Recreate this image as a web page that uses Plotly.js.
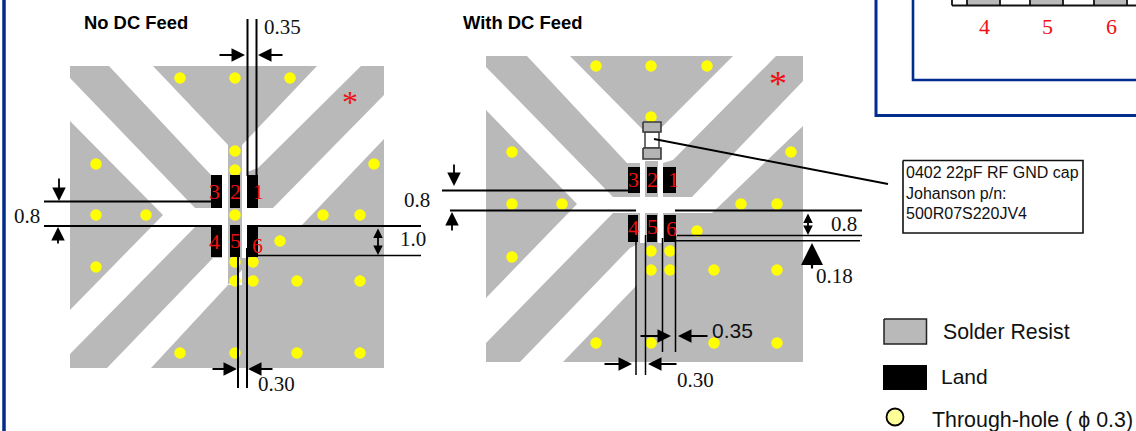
<!DOCTYPE html>
<html><head><meta charset="utf-8">
<script src="https://cdn.plot.ly/plotly-3.0.1.min.js"></script>
<style>html,body{margin:0;padding:0;background:#fff}#c{width:1136px;height:431px}</style></head>
<body><div id="c"></div>
<script>
// Solder-resist regions (null separates polygons)
const resistLeftX=[70,109,211,222,222,195,70,null,153,317,242,242,228,228,null,361,384,384,273,247,247,258,null,70,163,70,null,70,197,222,222,213,107,70,null,384,302,247,247,242,242,228,151,384];
const resistLeftY=[66,66,175,175,208,208,78,null,66,66,145,285,285,145,null,66,66,95,208,208,172,168,null,121,215,310,null,354,225,225,258,258,368,368,null,139,225,225,258,258,270,285,368,368];
const resistRightX=[486,527,627,640,640,613,486,null,570,733,651,null,645,658,658,645,null,776,803,803,692,663,663,673,null,486,577,486,null,486,613,640,640,630,520,486,null,645,658,658,663,663,712,803,803,563,637,637,645];
const resistRightY=[56,56,163,163,197,197,67,null,56,56,138,null,161,161,197,197,null,56,56,81,197,197,163,160,null,110,204,298,null,343,213,213,243,248,362,362,null,213,213,243,243,213,213,126,362,362,285,243,243];
// Through-holes
const holesLeftX=[180,235,290,235,235,96,374,96,146,235,323,360,280,96,235,253,235,253,297,360,180,235,297,360];
const holesLeftY=[78,78,78,151,170,164,164,215,215,215,215,215,241,267,262,262,281,281,281,281,353,353,353,353];
const holesRightX=[596,651,707,651,512,791,512,562,741,777,697,512,651,670,651,670,714,777,596,651,714,777];
const holesRightY=[66,66,66,117,152,152,204,204,204,204,231,257,251,251,270,270,270,270,343,343,343,343];
// Lands
const landsX=[211,222,222,211,null,230,240,240,230,null,247,258,258,247,null,211,222,222,211,null,230,240,240,230,null,247,258,258,247,null,
 628,640,640,628,null,647,657,657,647,null,663,676,676,663,null,628,638,638,628,null,647,657,657,647,null,664,676,676,664];
const landsY=[175,175,208,208,null,175,175,208,208,null,175,175,208,208,null,225,225,257,257,null,225,225,257,257,null,225,225,257,257,null,
 167,167,193,193,null,167,167,193,193,null,167,167,193,193,null,215,215,242,242,null,215,215,242,242,null,215,215,242,242];
// Capacitor
const capEndsX=[643,661,661,643,643,null,643,661,661,643,643];
const capEndsY=[122,122,132,132,122,null,148,148,159,159,148];
const capBodyX=[645,659,659,645,645];
const capBodyY=[132,132,148,148,132];
// Dimension lines
const dimHeavyX=[247.5,247.5,null,256.5,256.5,null,44,212,null,44,212,null,258,421,null,238,238,null,247,247,null,442,628,null,450,636,null,675,862,null,654,888];
const dimHeavyY=[19,176,null,19,176,null,201.5,201.5,null,226,226,null,226,226,null,257,388,null,248,388,null,190.5,190.5,null,210.5,210.5,null,210.5,210.5,null,139,184];
const dimThinX=[258,421,null,677,862,null,675,860,null,662.5,662.5,null,675.5,675.5,null,636,636,null,645.5,645.5];
const dimThinY=[255.5,255.5,null,235.5,235.5,null,240.7,240.7,null,238,352,null,236,352,null,242,375,null,235,375];
// Arrows: tip x, tip y, tail x, tail y
const arrowTips=[[245,55,218,55],[258,55,284,55],[59,201,59,177],[58,227,58,245],[237,369,211,369],[248,369,274,369],
 [454,186,454,163],[452,212,452,232],[671,336,639,336],[678,336,709,336],[632,364,603,364],[648,364,678,364]];
const doubleArrows=[[378,255,378,227],[808,235,808,212]];
const bigArrow=[812,243,812,270];
// Frame
const frameLeftX=[4,4];const frameLeftY=[0,431];
const frameOuterX=[876,876,1136];const frameOuterY=[0,115.5,115.5];
const frameInnerX=[913,913,1136];const frameInnerY=[0,80,80];
// Table fragment
const tableGrayX=[967,1000,1000,967,null,1030,1063,1063,1030,null,1094,1127,1127,1094];
const tableGrayY=[0,0,5,5,null,0,0,5,5,null,0,0,5,5];
const tableLineX=[952,952,null,967,967,null,1000,1000,null,1030,1030,null,1063,1063,null,1094,1094,null,1127,1127,null,952,1136];
const tableLineY=[0,5.5,null,0,5.5,null,0,5.5,null,0,5.5,null,0,5.5,null,0,5.5,null,0,5.5,null,5.5,5.5];
// Callout + legend
const calloutX=[903,1083,1083,903,903];const calloutY=[160.5,160.5,233,233,160.5];
const swatchResistX=[884,926.5,926.5,884,884];const swatchResistY=[319,319,344,344,319];
const swatchLandX=[883,927,927,883,883];const swatchLandY=[365,365,390,390,365];
const legendHoleX=[895];const legendHoleY=[417];
// Text labels
const sansBold=[["No DC Feed",84,22],["With DC Feed",463,22]];
const serifDims=[["0.35",264,27],["0.8",14,216],["1.0",400,239],["0.30",258,384],["0.8",404,200],["0.8",831,224],["0.18",816,276],["0.30",677,380]];
const sansLabels=[["0.35",712,330,21],["Solder Resist",943,332,21.3],["Land",941,376,21],["Through-hole ( ϕ 0.3)",932,420,21.4]];
const calloutLines=[["0402 22pF RF GND cap",906,172],["Johanson p/n:",906,193],["500R07S220JV4",906,213]];
const pinLabels=[["3",214,191],["2",235,191],["1",258,191],["4",214,241],["5",235,240],["6",257,245],
 ["3",633,179],["2",652,179],["1",673,179],["4",633,227],["5",652,226],["6",671,228],
 ["4",984,26],["5",1047,26],["6",1111,26]];
const stars=[["*",350,102,32],["*",778,84,36]];

const GRAY='#b9b9b9',BLUE='#002e8c',SERIF='"Liberation Serif",serif',SANS='"Liberation Sans",sans-serif';
function poly(x,y,fill,line,w){return {x,y,mode:w?'lines':'none',type:'scatter',fill:'toself',fillcolor:fill,line:{color:line||fill,width:w||0},hoverinfo:'skip',showlegend:false};}
function lines(x,y,c,w){return {x,y,mode:'lines',type:'scatter',connectgaps:false,line:{color:c,width:w},hoverinfo:'skip',showlegend:false};}
function dots(x,y){return {x,y,mode:'markers',type:'scatter',marker:{color:'#ffff00',size:11.5},hoverinfo:'skip',showlegend:false};}
const data=[
 poly(resistLeftX,resistLeftY,GRAY),poly(resistRightX,resistRightY,GRAY),
 dots(holesLeftX,holesLeftY),dots(holesRightX,holesRightY),
 poly(landsX,landsY,'#000000'),
 poly(capBodyX,capBodyY,'#ffffff','#4a4a4a',1.6),poly(capEndsX,capEndsY,'#b4b4b4','#3a3a3a',1.6),
 lines(dimHeavyX,dimHeavyY,'#000',2),lines(dimThinX,dimThinY,'#000',1.5),
 lines(frameLeftX,frameLeftY,BLUE,3.5),lines(frameOuterX,frameOuterY,BLUE,3),lines(frameInnerX,frameInnerY,BLUE,2.6),
 poly(tableGrayX,tableGrayY,GRAY),lines(tableLineX,tableLineY,'#111',1.8),
 poly(calloutX,calloutY,'#ffffff','#111',1.6),
 poly(swatchResistX,swatchResistY,GRAY,'#222',1.5),poly(swatchLandX,swatchLandY,'#000'),
 {x:legendHoleX,y:legendHoleY,mode:'markers',type:'scatter',marker:{color:'#ffff99',size:17,line:{color:'#000',width:1.8}},hoverinfo:'skip',showlegend:false}
];
const ann=[];
function txt(t,x,y,size,color,fam,anchor){ann.push({text:t,x,y,xref:'x',yref:'y',showarrow:false,xanchor:anchor||'left',yanchor:'middle',font:{size,color,family:fam},borderpad:0,borderwidth:0});}
sansBold.forEach(a=>txt('<b>'+a[0]+'</b>',a[1],a[2],18.4,'#000',SANS));
serifDims.forEach(a=>txt(a[0],a[1],a[2],21,'#111',SERIF));
sansLabels.forEach(a=>txt(a[0],a[1],a[2],a[3],'#111',SANS));
calloutLines.forEach(a=>txt(a[0],a[1],a[2],16,'#111',SANS));
pinLabels.forEach(a=>txt(a[0],a[1],a[2],22,'#ee1111',SERIF,'center'));
stars.forEach(a=>txt(a[0],a[1],a[2],a[3],'#ee1111',SERIF,'center'));
function arrow(a,side,size,w){ann.push({text:'',x:a[0],y:a[1],ax:a[2],ay:a[3],xref:'x',yref:'y',axref:'x',ayref:'y',showarrow:true,arrowhead:2,startarrowhead:2,arrowside:side,arrowsize:size,startarrowsize:size,arrowwidth:w,arrowcolor:'#000',standoff:0,startstandoff:0});}
arrowTips.forEach(a=>arrow(a,'end',1.5,1.8));
doubleArrows.forEach(a=>arrow(a,'end+start',1.05,1.8));
arrow(bigArrow,'end',2,2.2);
const layout={width:1136,height:431,margin:{l:0,r:0,t:0,b:0},paper_bgcolor:'#fff',plot_bgcolor:'#fff',showlegend:false,
 xaxis:{range:[0,1136],visible:false,fixedrange:true},yaxis:{range:[431,0],visible:false,fixedrange:true},annotations:ann};
Plotly.newPlot('c',data,layout,{staticPlot:true,displayModeBar:false});
</script></body></html>
